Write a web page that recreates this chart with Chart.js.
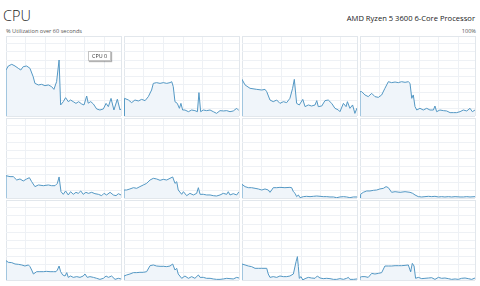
<!DOCTYPE html>
<html><head><meta charset="utf-8">
<script src="https://cdn.jsdelivr.net/npm/chart.js@4.4.1/dist/chart.umd.min.js"></script>
<style>
html,body{margin:0;padding:0;background:#fff;}
#wrap{position:relative;width:480px;height:286px;overflow:hidden;background:#fff;font-family:'Open Sans','Noto Sans',sans-serif;}
.t{position:absolute;white-space:nowrap;line-height:1;}
canvas{position:absolute;}
#title{left:3px;top:9px;font-size:14.5px;font-weight:300;color:#1a1a1a;}
#sub{left:6px;top:28.5px;font-size:5.6px;color:#555;}
#proc{right:5px;top:15px;font-size:7.6px;color:#222;}
#max{right:4px;top:28.5px;font-size:5.6px;color:#555;}
#tip{left:88px;top:51px;height:8px;padding:0 3px;font-size:5.4px;line-height:8px;color:#333;background:#fff;border:1px solid #c4c4c4;box-shadow:1px 1px 1px rgba(0,0,0,0.3);z-index:5;}
</style></head><body>
<div id="wrap">
  <div class="t" id="title"></div>
  <div class="t" id="sub"></div>
  <div class="t" id="proc"></div>
  <div class="t" id="max"></div>
  <div class="t" id="tip"></div>
</div>
<script>
const TITLE = 'CPU';
const SUBTITLE = '% Utilization over 60 seconds';
const PROCESSOR = 'AMD Ryzen 5 3600 6-Core Processor';
const MAX_LABEL = '100%';
const TOOLTIP_LABEL = 'CPU 0';
const SECONDS_MAX = 60;
const UTIL_MAX = 100;

// [seconds, % utilization] per logical processor
const cpu0 = [[0,0],[0,57.5],[1.2,62.5],[3,64.6],[4.7,62.5],[6.4,59.6],[7.7,57.5],[9,61.7],[10.8,62.5],[12.5,59.6],[14.2,49],[15.1,40.8],[16.9,38.8],[18.6,39.6],[20.3,37.9],[22.1,38.8],[23.8,36.7],[25,33.3],[26.4,42.9],[27.7,70],[28.5,13.8],[29.9,17.9],[31.1,22.9],[32.5,17.9],[33.7,20],[35.1,17.9],[36.5,15.8],[37.9,17.9],[39.5,15],[40.7,13.8],[42.1,25],[42.9,16],[44.2,18],[45.6,15],[47.3,8.8],[49,7.5],[50.8,8.8],[52.2,15.8],[53.4,11.7],[54.8,22],[56.3,7.5],[58.1,21],[59.5,7.5],[60,9]];
const cpu1 = [[0,0],[0,22.1],[0.5,22.1],[2.3,20],[4,16.7],[5.7,20],[7.5,18.8],[9.2,20.8],[11,19.2],[12.7,24.2],[14.4,32.5],[15.3,40.8],[17,41.7],[18.8,40.8],[20.5,41.7],[22.3,40.8],[24,41.7],[24.9,42.9],[25.7,36.7],[26.6,17.9],[27.8,15.8],[28.9,9.6],[29.7,15.8],[30.6,7.5],[31.8,7.5],[33.6,5.4],[35.3,7.5],[37,6.7],[38.3,5.4],[39.1,29.2],[40,5.4],[41.4,7.5],[43.1,6.7],[44.9,7.5],[46.6,5.4],[48.3,3.3],[50.1,6.7],[51.8,6.3],[53.6,6.7],[55.3,5.4],[57,6.3],[58.8,9.6],[60,6.7]];
const cpu2 = [[0,0],[0,45.8],[1.6,38.8],[4.2,34.6],[7.7,33.3],[10.3,32.5],[12,33.3],[12.9,30.4],[14.6,20],[16.3,17.9],[18.1,20],[19.8,15.8],[21.6,17.9],[23.3,16.7],[25,22.1],[26.4,34.6],[27.3,45.8],[28.5,15.8],[29.9,13.8],[31.7,20.8],[32.9,11.7],[34.6,13.8],[36.3,12.5],[38.1,13.8],[39,19.2],[39.8,11.7],[41.6,12.5],[43.3,19.2],[45,20],[46.8,15.8],[48.5,9.6],[50.3,7.5],[51.1,5.4],[52.9,15.8],[54.3,11.7],[55,17.9],[56.3,9.6],[57.7,13.8],[58.9,3.3],[60,10]];
const cpu3 = [[0,0],[0,30.4],[0.9,30.4],[2.6,26.3],[4.3,24.2],[6.1,28.3],[7.8,24.2],[9.6,23.3],[11.3,26.3],[13,34.6],[14.8,42.9],[16.5,41.7],[18.3,42.5],[20,41.7],[21.7,42.9],[23.5,42.1],[25.2,42.9],[26.1,40.8],[27,22.1],[27.8,26.3],[28.7,11.7],[29.6,7.5],[31.3,9.6],[33,7.5],[34.8,9.6],[36.5,7.5],[38.3,7.5],[39.1,12.5],[40,5.4],[41.7,7.5],[43.5,6.7],[45.2,6.3],[47,4.2],[48.7,4.2],[50.4,4.2],[52.2,5.4],[53.9,7.5],[55.7,6.3],[57.4,9.6],[58.6,5.4],[60,7.5]];
const cpu4 = [[0,0],[0,27.9],[2.1,26.7],[3.8,26.7],[5.6,22.5],[7.3,23.8],[9,21.3],[10.8,23.8],[12.2,25.4],[13.4,20.4],[15.1,14.2],[16.9,16.3],[19.5,15.4],[22.1,16.3],[23.8,15.4],[25.6,15.4],[26.8,18.3],[27.7,26.3],[28.7,7.9],[29.9,4.6],[31.1,8.8],[32.5,3.8],[33.7,7.9],[35.1,4.6],[36.5,7.1],[37.7,5.8],[39,8.8],[40.3,4.6],[41.7,7.1],[43,5.8],[44.7,7.1],[46.4,5.4],[48.2,4.6],[49.9,2.9],[51.1,5.8],[52.5,3.8],[54.3,7.1],[56,3.8],[57.4,2.9],[58.6,5.4],[60,3.8]];
const cpu5 = [[0,0],[0,10],[1.4,10],[3.1,11.3],[4.9,12.9],[6.6,12.1],[8.3,14.2],[10.1,16.3],[11.8,18.3],[13.6,22.5],[15.3,24.6],[17,23.8],[18.8,22.1],[20.5,23.3],[22.3,22.5],[24,24.6],[25.4,26.3],[26.6,18.3],[27.5,20.4],[28.3,10],[30.1,4.6],[31,7.9],[32.7,2.9],[34.4,5.8],[36.2,3.8],[37.9,5.8],[38.8,12.9],[39.7,4.6],[41.4,4.6],[43.1,3.8],[44.9,3.8],[46.6,2.9],[48.3,2.5],[50.1,3.8],[51.8,5.8],[53.6,4.6],[54.4,7.9],[55.3,3.8],[57,5.4],[58.8,3.8],[60,7.9]];
const cpu6 = [[0,0],[0,17.1],[1.6,14.2],[3.3,12.9],[5,12.9],[6.8,12.1],[8.5,11.3],[10.3,10],[12,11.3],[13.7,10],[14.6,7.1],[15.5,10],[16.3,12.9],[18.1,12.9],[19.8,13.3],[22.4,12.9],[25,13.3],[25.9,12.9],[26.8,7.9],[27.7,5.8],[28.5,1.7],[29.4,3.8],[30.3,0.4],[32,1.7],[33.7,2.1],[35.5,1.7],[37.2,2.1],[39,2.5],[40.7,2.1],[42.4,1.7],[44.2,1.7],[45.9,1.3],[47.7,1.3],[49.4,0.4],[51.1,1.3],[52.9,1.7],[54.6,1.3],[56.3,0.4],[58.1,1.3],[60,1.3]];
const cpu7 = [[0,0],[0.3,4.6],[1.7,7.1],[3.5,8.8],[5.2,8.8],[7,9.6],[8.7,10],[10.4,11.3],[12.2,12.1],[13.6,14.2],[14.8,12.9],[16.5,7.1],[18.3,7.9],[20.9,7.1],[23.5,7.9],[26.1,7.1],[27.5,5.8],[28.7,3.8],[30.4,1.7],[32.2,1.3],[33.9,1.7],[35.7,2.1],[37.4,1.7],[39.1,2.1],[40.9,1.3],[42.6,1.7],[44.3,1.3],[46.1,1.7],[47.8,1.3],[49.6,1.7],[52.2,1.3],[53.9,1.3],[55.7,1.7],[57.4,1.3],[60,1.7]];
const cpu8 = [[0,0],[0,24.2],[1.2,22.1],[3,21.7],[4.7,20],[6.4,19.6],[8.2,18.8],[9.9,17.5],[11.7,18.8],[12.5,16.7],[13.4,12.5],[14.3,7.5],[16,10.4],[17.7,10.4],[19.5,10.4],[21.2,10.8],[23,10.4],[24.7,10.4],[26.1,10.4],[26.8,12.5],[27.7,17.5],[28.5,10.4],[29.6,6.3],[30.8,5],[31.7,9.2],[32.5,3.3],[33.7,5],[35.1,3.3],[36.9,4.2],[38.6,3.3],[40.3,5],[41.2,7.5],[42.4,3.3],[43.8,4.2],[45.6,3.3],[47.3,2.1],[49,0.8],[50.8,2.1],[52.2,5],[53.4,3.3],[55.1,5],[56.9,0.8],[58.6,2.1],[60,1.3]];
const cpu9 = [[0,0],[0,5],[1.4,6.3],[3.1,7.5],[4.9,9.2],[6.6,9.2],[8.3,9.6],[10.1,9.6],[11.8,10.4],[13.6,17.9],[15.3,18.8],[17,17.5],[18.8,17.1],[20.5,17.1],[22.3,16.7],[24,17.5],[25.4,20],[26.6,12.5],[27.5,14.6],[28.3,7.5],[30.1,2.1],[31.8,5],[33.6,2.1],[35.3,4.2],[37,2.1],[38.8,6.3],[39.7,3.3],[41.4,3.3],[43.1,2.1],[44.9,2.1],[46.6,1.3],[48.3,0.8],[50.1,0.8],[51.8,1.3],[53.6,2.1],[55.3,1.7],[57,1.3],[58.8,3.3],[60,2.5]];
const cpu10 = [[0,0],[0,20],[1.6,18.8],[3.3,17.5],[5,16.7],[6.8,14.6],[8.5,14.6],[10.3,14.6],[12.9,14.6],[13.7,7.5],[14.6,3.3],[16.3,4.2],[18.1,3.3],[19.8,5],[21.6,4.2],[23.3,4.2],[25,5],[26.8,7.5],[28.2,22.9],[28.9,29.2],[29.4,16.7],[29.9,2.1],[30.8,4.2],[31.7,0],[32.9,1.7],[34.6,3.3],[36.3,2.5],[38.1,2.1],[39.3,5],[40.7,2.5],[42.4,1.7],[44.2,2.1],[45.9,1.7],[47.7,0.8],[49.4,0.8],[51.1,1.7],[52.9,0.8],[54.6,2.1],[55.5,3.3],[56.3,0.8],[58.1,0.8],[60,1.3]];
const cpu11 = [[0,0],[0,3.3],[0.9,4.2],[2.6,4.2],[4.3,3.3],[6.1,8.3],[7.8,7.5],[9.6,8.3],[11.3,9.2],[13,17.5],[14.8,17.5],[16.5,17.5],[18.3,17.9],[20,17.9],[21.7,17.9],[23.5,18.3],[25.2,18.8],[26.1,12.5],[26.4,10.4],[27.3,20.8],[28.2,17.5],[29,2.1],[30.4,3.3],[32.2,1.7],[33.9,2.1],[35.7,2.5],[37.4,2.9],[39.1,0.8],[40.9,3.3],[42.6,2.1],[44.3,2.5],[46.1,1.7],[47.8,0.8],[49.6,1.3],[51.3,0.8],[53,2.1],[54.8,2.5],[56.5,1.7],[58.3,0.8],[60,2.5]];

const processors = [cpu0, cpu1, cpu2, cpu3, cpu4, cpu5, cpu6, cpu7, cpu8, cpu9, cpu10, cpu11];

document.getElementById('title').textContent = TITLE;
document.getElementById('sub').textContent = SUBTITLE;
document.getElementById('proc').textContent = PROCESSOR;
document.getElementById('max').textContent = MAX_LABEL;
document.getElementById('tip').textContent = TOOLTIP_LABEL;

const LINE = 'rgb(84,152,196)';
const FILL = 'rgb(240,245,250)';
const GRID = 'rgb(238,241,245)';
const EDGE = 'rgb(226,231,236)';
const GRID_STEP = 10.3;

const wrap = document.getElementById('wrap');
processors.forEach((series, i) => {
  const col = i % 4, row = Math.floor(i / 4);
  const cv = document.createElement('canvas');
  cv.width = 116; cv.height = 81;
  cv.style.width = '116px'; cv.style.height = '81px';
  cv.style.left = (6 + col * 118) + 'px';
  cv.style.top = (36 + row * 82) + 'px';
  wrap.appendChild(cv);
  new Chart(cv, {
    type: 'line',
    data: { datasets: [{
      label: 'CPU ' + i,
      data: series.map(p => ({ x: p[0], y: p[1] })),
      borderColor: LINE, borderWidth: 1,
      backgroundColor: FILL, fill: 'origin',
      pointRadius: 0, tension: 0
    }]},
    options: {
      responsive: false, animation: false, devicePixelRatio: 1,
      layout: { padding: { left: 0, top: 0, right: 1, bottom: 1 } },
      plugins: { legend: { display: false }, tooltip: { enabled: false } },
      events: [],
      scales: {
        x: {
          type: 'linear', min: 0, max: SECONDS_MAX,
          afterBuildTicks: ax => {
            const t = [];
            for (let v = 0; v < SECONDS_MAX - 1; v += GRID_STEP) t.push({ value: v });
            t.push({ value: SECONDS_MAX });
            ax.ticks = t;
          },
          ticks: { display: false },
          grid: { drawTicks: false, color: c => (c.tick && (c.tick.value === 0 || c.tick.value === SECONDS_MAX)) ? EDGE : GRID, lineWidth: 1 },
          border: { display: false }
        },
        y: {
          min: 0, max: UTIL_MAX,
          ticks: { display: false, stepSize: 10 },
          grid: { drawTicks: false, color: c => (c.tick && (c.tick.value === 0 || c.tick.value === UTIL_MAX)) ? EDGE : GRID, lineWidth: 1 },
          border: { display: false }
        }
      }
    }
  });
});
</script>
</body></html>
